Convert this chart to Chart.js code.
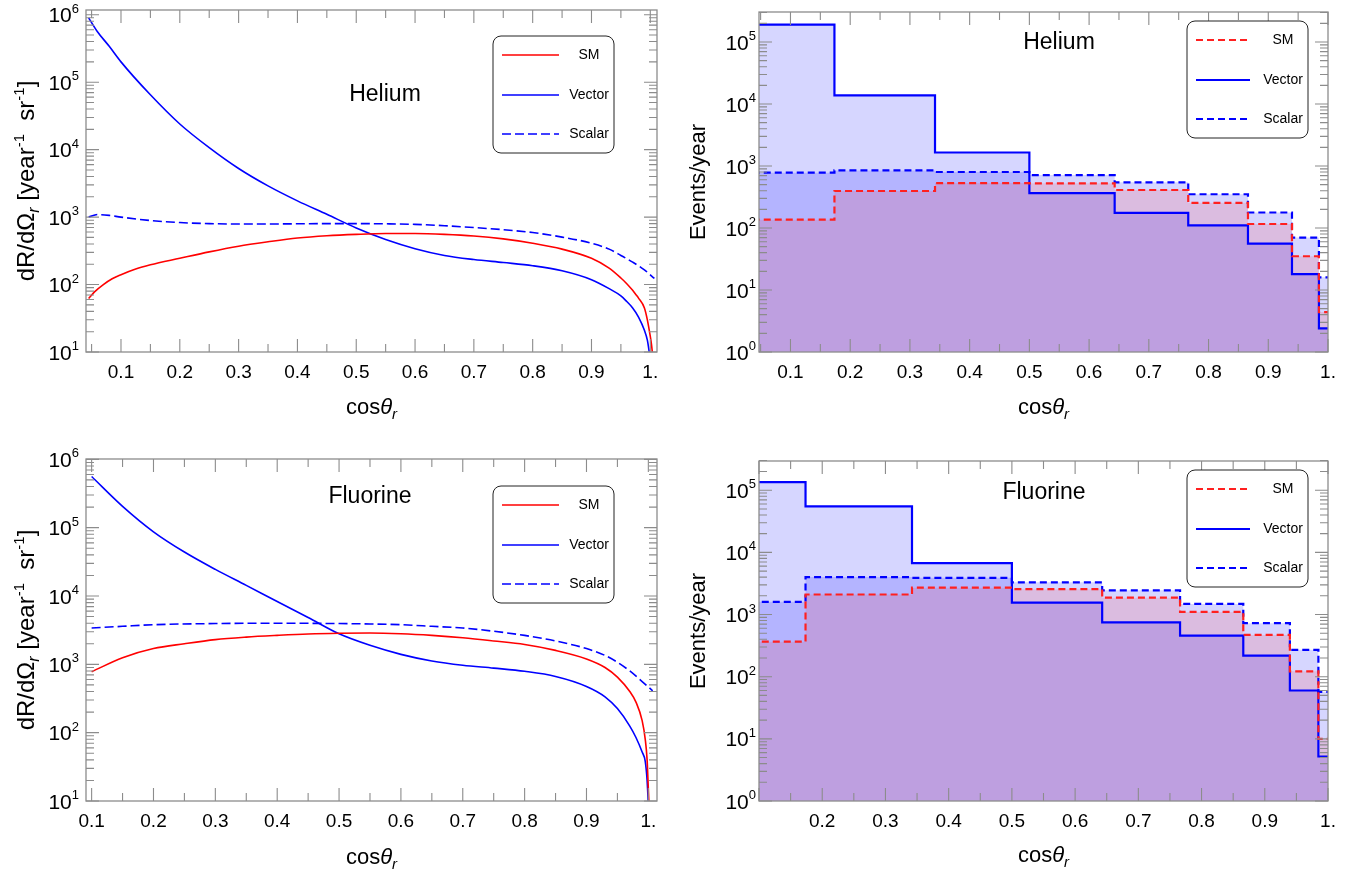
<!DOCTYPE html>
<html>
<head>
<meta charset="utf-8">
<script src="https://cdn.jsdelivr.net/npm/chart.js@4.4.1/dist/chart.umd.min.js"></script>
<style>
  body { margin: 0; background: #fff; }
  .panel { position: absolute; }
</style>
</head>
<body>
<canvas id="heRate" class="panel" style="left:0px;top:0px" width="680" height="435"></canvas>
<canvas id="heHist" class="panel" style="left:680px;top:0px" width="681" height="435"></canvas>
<canvas id="fRate" class="panel" style="left:0px;top:435px" width="680" height="436"></canvas>
<canvas id="fHist" class="panel" style="left:680px;top:435px" width="681" height="436"></canvas>
<script>
// Helium: dR/dOmega vs cos(theta_r)
const heSmCos   = [0.045,0.055,0.07,0.085,0.1,0.125,0.15,0.2,0.25,0.3,0.35,0.4,0.45,0.5,0.55,0.6,0.65,0.7,0.75,0.8,0.85,0.9,0.93,0.95,0.96,0.97,0.975,0.98,0.99,0.995,1.0,1.002,1.004];
const heSmRate  = [62,78,100,122,140,170,196,245,305,370,430,490,530,555,570,570,555,525,475,410,335,245,175,125,103,82,72,63,45,30,17,13,9];
const heVecCos  = [0.045,0.06,0.08,0.1,0.15,0.2,0.25,0.3,0.35,0.4,0.45,0.5,0.55,0.6,0.65,0.7,0.75,0.8,0.85,0.9,0.93,0.95,0.96,0.97,0.98,0.99,0.995,0.999];
const heVecRate = [9.0e5,5.6e5,3.4e5,2.0e5,6.5e4,2.4e4,1.07e4,5.25e3,2.9e3,1.74e3,1.1e3,690,465,340,270,235,212,190,160,118,87,68,56,45,33,21,15,9];
const heScaCos  = [0.045,0.06,0.08,0.1,0.15,0.2,0.25,0.3,0.35,0.4,0.45,0.5,0.55,0.6,0.65,0.7,0.75,0.8,0.85,0.9,0.93,0.95,0.97,0.99,1.007];
const heScaRate = [1000,1090,1060,1000,890,830,800,790,790,795,800,800,795,780,745,700,650,590,505,410,335,270,215,165,123];

// Fluorine: dR/dOmega vs cos(theta_r)
const fSmCos   = [0.1,0.15,0.2,0.25,0.3,0.35,0.4,0.45,0.5,0.55,0.6,0.65,0.7,0.75,0.8,0.85,0.9,0.93,0.95,0.97,0.98,0.99,0.995,0.998,1.0,1.001];
const fSmRate  = [780,1250,1700,2000,2300,2500,2650,2780,2850,2870,2800,2650,2450,2200,1950,1600,1200,900,650,400,280,150,80,40,15,9];
const fVecCos  = [0.1,0.15,0.2,0.25,0.3,0.35,0.4,0.45,0.5,0.55,0.6,0.65,0.7,0.75,0.8,0.85,0.9,0.93,0.95,0.97,0.98,0.99,0.995,0.998,1.0];
const fVecRate = [5.6e5,2.05e5,8.7e4,4.4e4,2.45e4,1.43e4,8.3e3,4.85e3,2.8e3,1.9e3,1.4e3,1.12e3,970,880,790,665,475,335,225,125,85,52,38,20,9];
const fScaCos  = [0.1,0.15,0.2,0.3,0.4,0.5,0.55,0.6,0.65,0.7,0.75,0.8,0.85,0.9,0.93,0.95,0.97,0.99,1.007];
const fScaRate = [3400,3600,3800,3950,4000,3950,3900,3800,3600,3400,3050,2650,2200,1700,1350,1070,800,560,410];

// histogram bins (cos of 90,80,...,0 degrees) and events/year per bin
const binEdges  = [0, 0.1736, 0.342, 0.5, 0.6428, 0.766, 0.866, 0.9397, 0.9848, 1.0];
const heHistSM  = [136, 395, 530, 525, 410, 255, 116, 35, 4.4];
const heHistVec = [1.9e5, 1.38e4, 1.65e3, 365, 176, 110, 56, 18, 2.4];
const heHistSca = [780, 850, 800, 715, 545, 350, 178, 70, 16];
const fHistSM   = [366, 2100, 2700, 2560, 1870, 1100, 470, 122, 10];
const fHistVec  = [1.35e5, 5.5e4, 6.7e3, 1.55e3, 750, 458, 218, 60, 5.2];
const fHistSca  = [1600, 4000, 3900, 3300, 2450, 1480, 725, 270, 57];

// ticks
const xMajor = [0.1,0.2,0.3,0.4,0.5,0.6,0.7,0.8,0.9,1.0];
const xMinor = [0.05,0.15,0.25,0.35,0.45,0.55,0.65,0.75,0.85,0.95];
const xTickLabels = ['0.1','0.2','0.3','0.4','0.5','0.6','0.7','0.8','0.9','1.'];
const rateExponents = [1,2,3,4,5,6];
const histExponents = [0,1,2,3,4,5];

const FONT = '"Liberation Sans", Arial, Helvetica, sans-serif';

function pts(xs, ys) {
  return xs.map((x, i) => ({x: x, y: ys[i]}));
}
function steps(edges, vals) {
  // last edge repeats the last bin value so the step reaches x=1
  return edges.map((e, i) => ({x: e, y: vals[Math.min(i, vals.length - 1)]}));
}

// draws text pieces with sub/superscripts along one baseline
function richText(ctx, parts, x, y, align) {
  let w = 0;
  parts.forEach(p => {
    ctx.font = (p.style || 'normal') + ' ' + p.size + 'px ' + FONT;
    p.w = ctx.measureText(p.t).width;
    w += p.w;
  });
  let cx = align === 'center' ? x - w / 2 : (align === 'right' ? x - w : x);
  ctx.textAlign = 'left';
  ctx.textBaseline = 'alphabetic';
  parts.forEach(p => {
    ctx.font = (p.style || 'normal') + ' ' + p.size + 'px ' + FONT;
    ctx.fillText(p.t, cx, y + (p.dy || 0));
    cx += p.w;
  });
}

const cosTitle = [
  {t: 'cos', size: 22}, {t: 'θ', size: 22, style: 'italic'}, {t: 'r', size: 15, style: 'italic', dy: 5}
];
const rateTitle = [
  {t: 'dR/dΩ', size: 24}, {t: 'r', size: 16, style: 'italic', dy: 5},
  {t: ' [year', size: 24}, {t: '-1', size: 15, dy: -10},
  {t: '  sr', size: 24}, {t: '-1', size: 15, dy: -10}, {t: ']', size: 24}
];
const histTitle = [{t: 'Events/year', size: 22}];

const framePlugin = {
  id: 'frame',
  afterDatasetsDraw(chart, args, o) {
    const ctx = chart.ctx, a = chart.chartArea;
    const xs = chart.scales.x, ys = chart.scales.y;
    ctx.save();

    // frame
    ctx.strokeStyle = '#8c8c8c';
    ctx.lineWidth = 1.3;
    ctx.strokeRect(a.left, a.top, a.right - a.left, a.bottom - a.top);

    // inward ticks on all four sides
    ctx.lineWidth = 1.1;
    ctx.beginPath();
    const vt = (v, len) => {
      const px = xs.getPixelForValue(v);
      if (px < a.left - 0.5 || px > a.right + 0.5) return;
      ctx.moveTo(px, a.bottom); ctx.lineTo(px, a.bottom - len);
      ctx.moveTo(px, a.top); ctx.lineTo(px, a.top + len);
    };
    xMajor.forEach(v => vt(v, 13));
    xMinor.forEach(v => vt(v, 8));
    const ht = (v, len) => {
      const py = ys.getPixelForValue(v);
      if (py < a.top - 0.5 || py > a.bottom + 0.5) return;
      ctx.moveTo(a.left, py); ctx.lineTo(a.left + len, py);
      ctx.moveTo(a.right, py); ctx.lineTo(a.right - len, py);
    };
    for (let k = Math.floor(Math.log10(ys.min)); k <= Math.ceil(Math.log10(ys.max)); k++) {
      for (let m = 1; m <= 9; m++) ht(m * Math.pow(10, k), m === 1 ? 13 : 8);
    }
    ctx.stroke();

    // tick labels
    ctx.fillStyle = '#000';
    ctx.font = '19px ' + FONT;
    ctx.textAlign = 'center';
    xMajor.forEach((v, i) => {
      const px = xs.getPixelForValue(v);
      if (px < a.left + 3) return;
      ctx.fillText(xTickLabels[i], px, a.bottom + 26);
    });
    o.yExp.forEach(k => {
      const py = ys.getPixelForValue(Math.pow(10, k));
      richText(ctx, [{t: '10', size: 21, dy: 7.5}, {t: String(k), size: 13, dy: -2}], a.left - o.yGap, py, 'right');
    });

    // axis titles
    richText(ctx, cosTitle, (a.left + a.right) / 2, o.xTitleY, 'center');
    ctx.save();
    ctx.translate(o.yTitleX, (a.top + a.bottom) / 2);
    ctx.rotate(-Math.PI / 2);
    richText(ctx, o.yTitle, 0, 0, 'center');
    ctx.restore();

    // element name
    ctx.font = '23px ' + FONT;
    ctx.textAlign = 'center';
    ctx.fillText(o.title, o.titleX, o.titleY);

    // legend box
    const L = o.legend, w = 121, h = 117, r = 8;
    ctx.beginPath();
    ctx.moveTo(L.x + r, L.y);
    ctx.arcTo(L.x + w, L.y, L.x + w, L.y + h, r);
    ctx.arcTo(L.x + w, L.y + h, L.x, L.y + h, r);
    ctx.arcTo(L.x, L.y + h, L.x, L.y, r);
    ctx.arcTo(L.x, L.y, L.x + w, L.y, r);
    ctx.closePath();
    ctx.fillStyle = '#fff';
    ctx.fill();
    ctx.strokeStyle = '#222';
    ctx.lineWidth = 1;
    ctx.stroke();
    const rows = [19, 59, 98];
    chart.data.datasets.forEach((d, i) => {
      const yy = L.y + rows[i];
      ctx.beginPath();
      ctx.strokeStyle = d.borderColor;
      ctx.lineWidth = L.lw;
      ctx.setLineDash(d.borderDash || []);
      ctx.moveTo(L.x + 9, yy);
      ctx.lineTo(L.x + L.len, yy);
      ctx.stroke();
      ctx.setLineDash([]);
      ctx.fillStyle = '#000';
      ctx.font = '14px ' + FONT;
      ctx.textAlign = 'center';
      ctx.textBaseline = 'middle';
      ctx.fillText(d.label, L.x + 96, yy);
      ctx.textBaseline = 'alphabetic';
    });

    ctx.restore();
  }
};

function rateDatasets(sm, vec, sca) {
  return [
    {label: 'SM', data: sm, borderColor: '#ff0000'},
    {label: 'Vector', data: vec, borderColor: '#0000ff'},
    {label: 'Scalar', data: sca, borderColor: '#0000ff', borderDash: [9, 4]}
  ].map(d => Object.assign(d, {pointRadius: 0, borderWidth: 1.6, fill: false, cubicInterpolationMode: 'monotone'}));
}

function histDatasets(sm, vec, sca) {
  return [
    {label: 'SM', data: steps(binEdges, sm), borderColor: '#ff2020', backgroundColor: 'rgba(255,0,0,0.12)', borderDash: [7, 4]},
    {label: 'Vector', data: steps(binEdges, vec), borderColor: '#0000ff', backgroundColor: 'rgba(0,0,255,0.16)'},
    {label: 'Scalar', data: steps(binEdges, sca), borderColor: '#0000ff', backgroundColor: 'rgba(0,0,255,0.16)', borderDash: [7, 4]}
  ].map(d => Object.assign(d, {pointRadius: 0, borderWidth: 2.2, fill: 'start', stepped: true}));
}

function makeChart(id, datasets, xr, yr, box, frame) {
  return new Chart(document.getElementById(id), {
    type: 'line',
    data: {datasets: datasets},
    options: {
      responsive: false,
      animation: false,
      events: [],
      layout: {padding: {left: 0, top: box.top, right: box.right, bottom: 0}},
      scales: {
        x: {type: 'linear', min: xr[0], max: xr[1], grid: {display: false}, border: {display: false},
            ticks: {display: false}, afterFit: s => { s.height = box.xh; }},
        y: {type: 'logarithmic', min: yr[0], max: yr[1], grid: {display: false}, border: {display: false},
            ticks: {display: false}, afterFit: s => { s.width = box.yw; }}
      },
      plugins: {
        legend: {display: false},
        tooltip: {enabled: false},
        filler: {drawTime: 'beforeDatasetsDraw'},
        frame: frame
      }
    },
    plugins: [framePlugin]
  });
}

makeChart('heRate',
  rateDatasets(pts(heSmCos, heSmRate), pts(heVecCos, heVecRate), pts(heScaCos, heScaRate)),
  [0.0405, 1.0114], [10, Math.pow(10, 6.07)],
  {top: 10, right: 23, xh: 83, yw: 86},
  {yExp: rateExponents, yGap: 7, xTitleY: 414, yTitleX: 34, yTitle: rateTitle,
   title: 'Helium', titleX: 385, titleY: 101, legend: {x: 493, y: 36, len: 66, lw: 1.6}});

makeChart('heHist',
  histDatasets(heHistSM, heHistVec, heHistSca),
  [0.0473, 1.0], [1, Math.pow(10, 5.484)],
  {top: 12, right: 33, xh: 83, yw: 79},
  {yExp: histExponents, yGap: 3, xTitleY: 414, yTitleX: 25, yTitle: histTitle,
   title: 'Helium', titleX: 379, titleY: 49, legend: {x: 507, y: 21, len: 63, lw: 2}});

makeChart('fRate',
  rateDatasets(pts(fSmCos, fSmRate), pts(fVecCos, fVecRate), pts(fScaCos, fScaRate)),
  [0.0909, 1.014], [10, Math.pow(10, 6.005)],
  {top: 24, right: 23, xh: 70, yw: 86},
  {yExp: rateExponents, yGap: 7, xTitleY: 429, yTitleX: 34, yTitle: rateTitle,
   title: 'Fluorine', titleX: 370, titleY: 68, legend: {x: 493, y: 51, len: 66, lw: 1.6}});

makeChart('fHist',
  histDatasets(fHistSM, fHistVec, fHistSca),
  [0.1, 1.0], [1, Math.pow(10, 5.47)],
  {top: 26, right: 33, xh: 70, yw: 79},
  {yExp: histExponents, yGap: 3, xTitleY: 427, yTitleX: 25, yTitle: histTitle,
   title: 'Fluorine', titleX: 364, titleY: 64, legend: {x: 507, y: 35, len: 63, lw: 2}});
</script>
</body>
</html>
